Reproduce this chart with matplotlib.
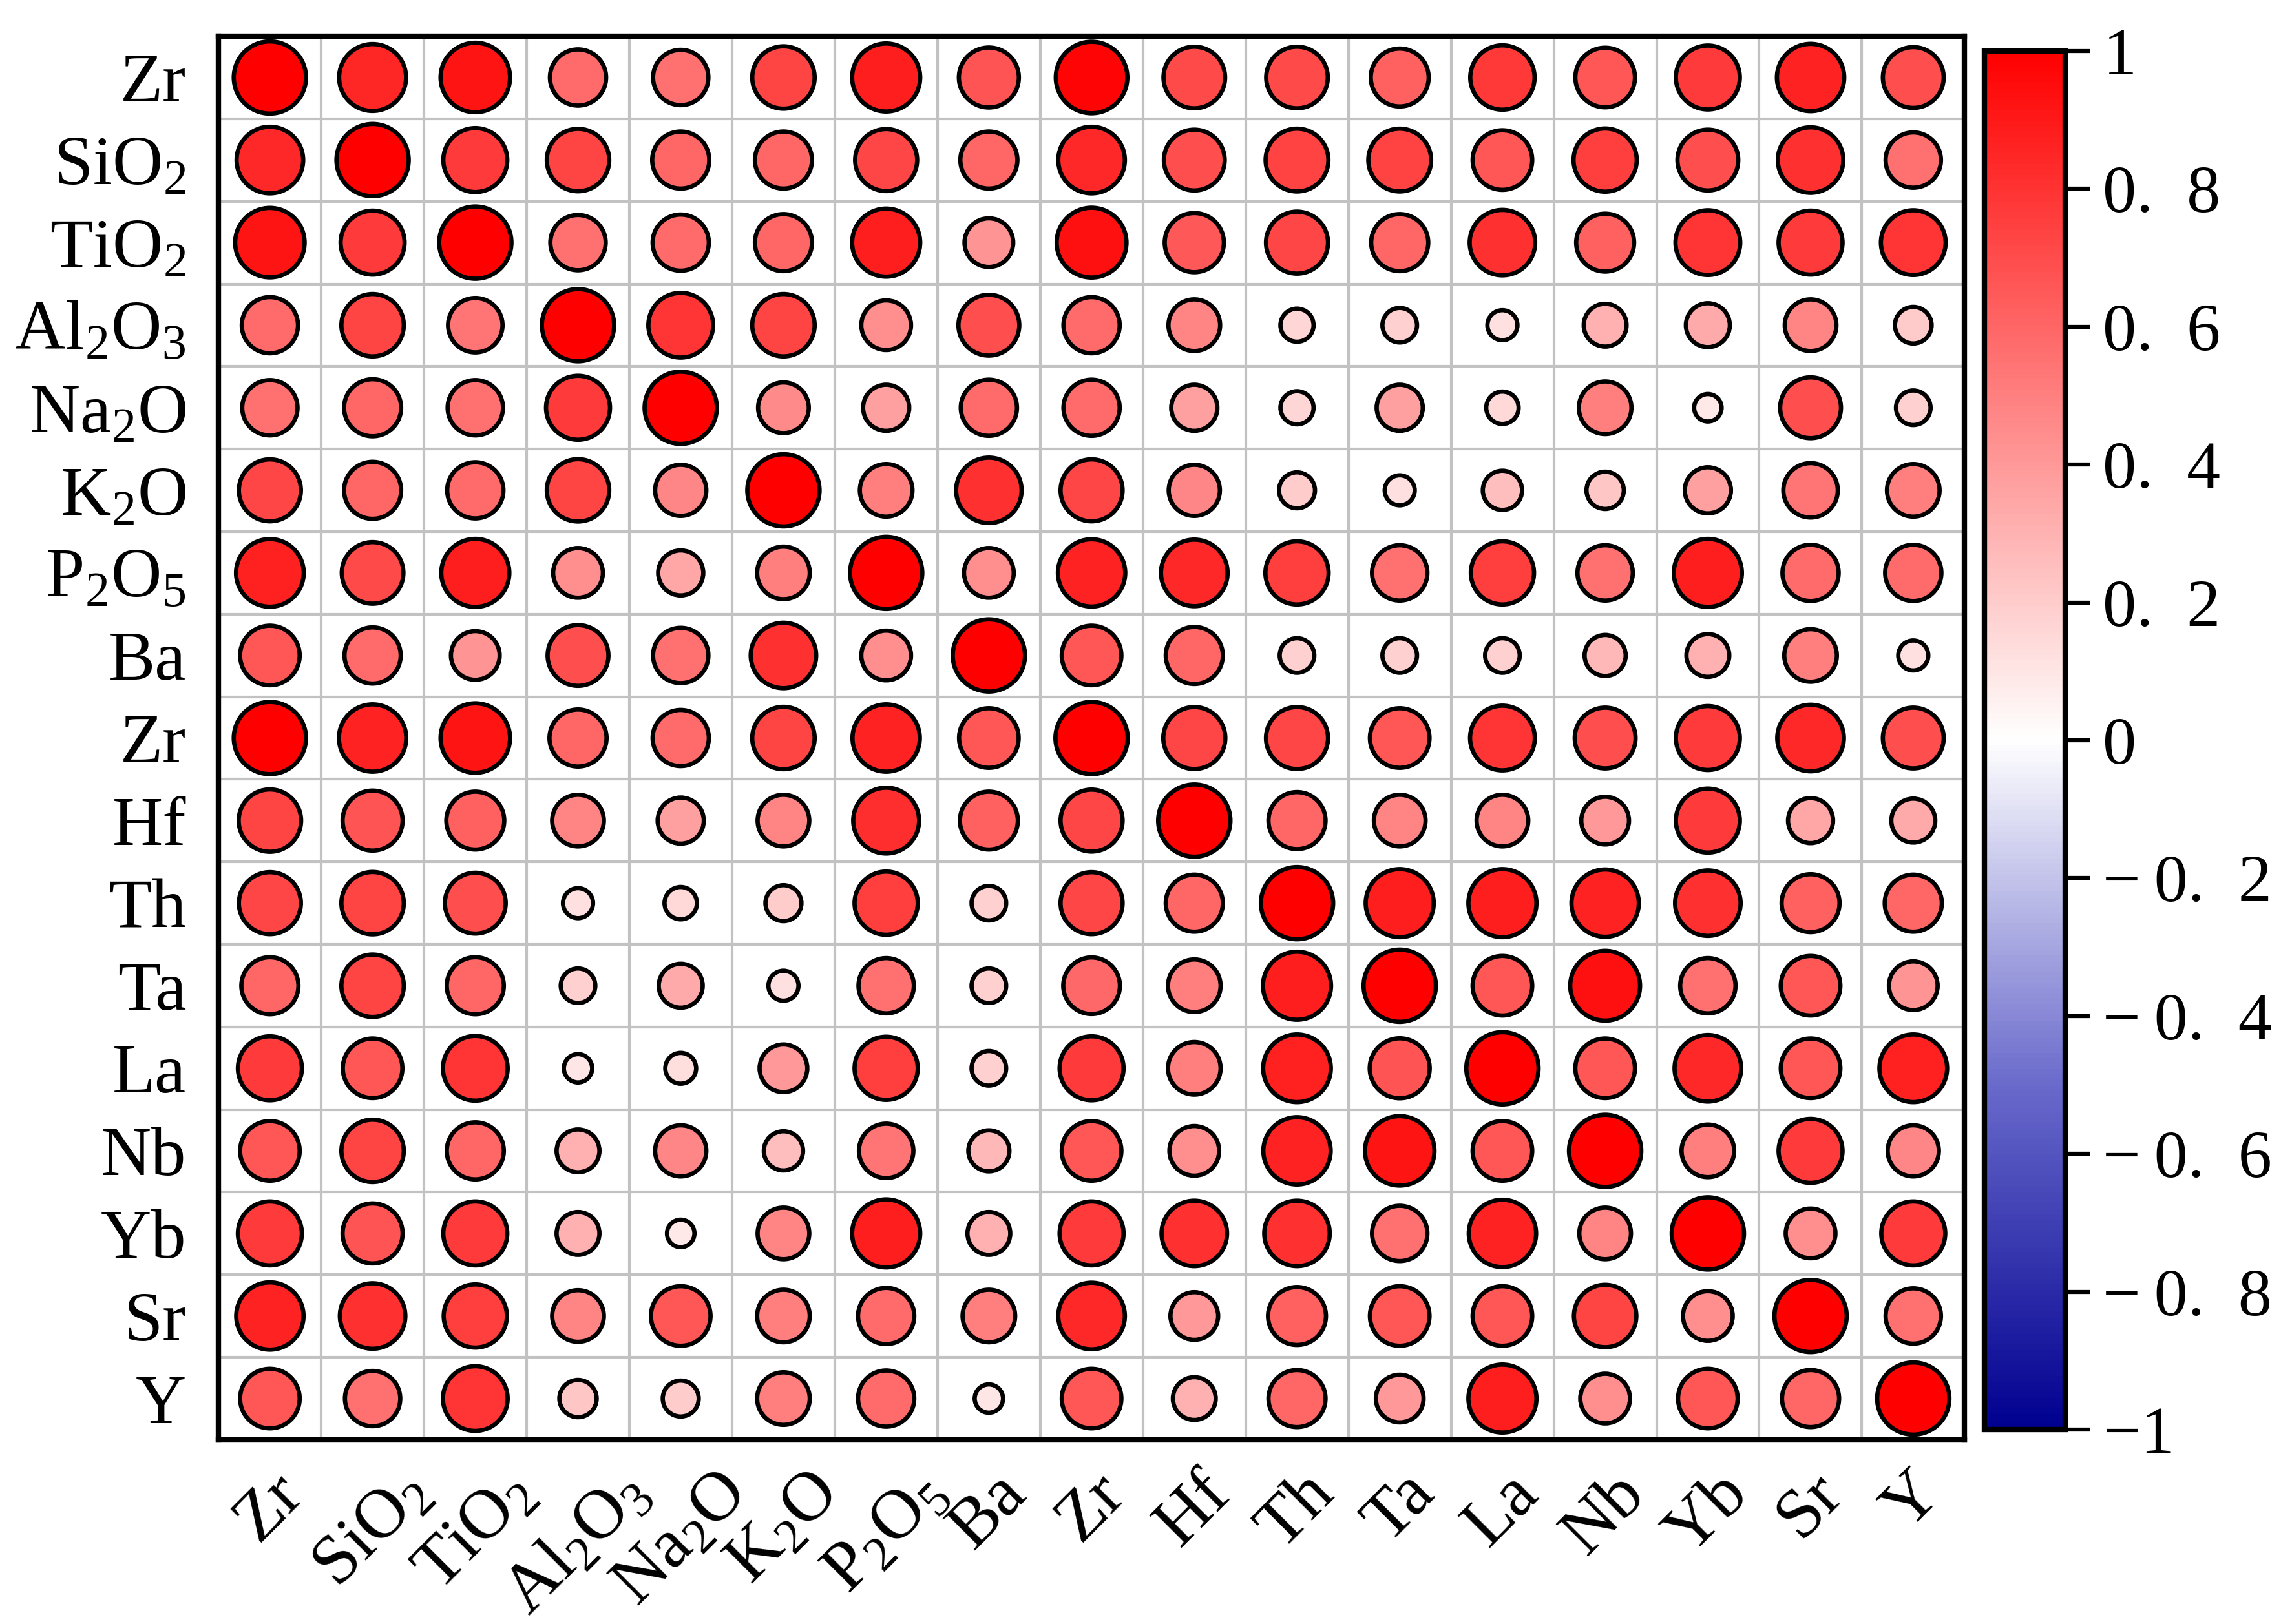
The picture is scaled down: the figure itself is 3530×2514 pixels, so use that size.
import numpy as np
import matplotlib
matplotlib.use('Agg')
import matplotlib.pyplot as plt
from matplotlib.colors import LinearSegmentedColormap

plt.rcParams['font.family'] = ['Liberation Serif', 'DejaVu Serif']
plt.rcParams['mathtext.fontset'] = 'custom'
plt.rcParams['mathtext.rm'] = 'Liberation Serif'
plt.rcParams['mathtext.it'] = 'Liberation Serif:italic'

# variable names (rows top->bottom, columns left->right)
labels = ['Zr', 'SiO$_2$', 'TiO$_2$', 'Al$_2$O$_3$', 'Na$_2$O', 'K$_2$O',
          'P$_2$O$_5$', 'Ba', 'Zr', 'Hf', 'Th', 'Ta', 'La', 'Nb', 'Yb', 'Sr', 'Y']

# correlation coefficients, one list per row
r_Zr1  = [1.00, 0.85, 0.92, 0.58, 0.56, 0.73, 0.88, 0.67, 0.98, 0.71, 0.71, 0.62, 0.78, 0.66, 0.77, 0.86, 0.69]
r_SiO2 = [0.84, 1.00, 0.77, 0.73, 0.60, 0.60, 0.72, 0.60, 0.84, 0.69, 0.74, 0.74, 0.66, 0.75, 0.69, 0.81, 0.56]
r_TiO2 = [0.92, 0.77, 1.00, 0.56, 0.58, 0.60, 0.88, 0.42, 0.93, 0.65, 0.72, 0.60, 0.81, 0.62, 0.79, 0.77, 0.79]
r_Al2O3 = [0.58, 0.73, 0.54, 1.00, 0.79, 0.73, 0.44, 0.69, 0.58, 0.48, 0.16, 0.18, 0.12, 0.31, 0.33, 0.48, 0.21]
r_Na2O = [0.56, 0.60, 0.56, 0.77, 1.00, 0.46, 0.37, 0.58, 0.58, 0.37, 0.16, 0.37, 0.15, 0.50, 0.09, 0.69, 0.18]
r_K2O  = [0.72, 0.60, 0.58, 0.73, 0.47, 1.00, 0.50, 0.81, 0.72, 0.47, 0.20, 0.12, 0.25, 0.22, 0.37, 0.54, 0.50]
r_P2O5 = [0.87, 0.71, 0.88, 0.44, 0.35, 0.50, 1.00, 0.44, 0.86, 0.84, 0.75, 0.56, 0.75, 0.56, 0.88, 0.58, 0.58]
r_Ba   = [0.66, 0.58, 0.42, 0.69, 0.56, 0.81, 0.44, 1.00, 0.66, 0.60, 0.18, 0.18, 0.18, 0.28, 0.31, 0.50, 0.12]
r_Zr2  = [1.00, 0.86, 0.92, 0.60, 0.58, 0.73, 0.86, 0.66, 1.00, 0.72, 0.72, 0.66, 0.79, 0.69, 0.77, 0.84, 0.69]
r_Hf   = [0.73, 0.67, 0.62, 0.48, 0.37, 0.48, 0.82, 0.62, 0.72, 1.00, 0.60, 0.48, 0.48, 0.40, 0.77, 0.35, 0.33]
r_Th   = [0.72, 0.73, 0.69, 0.12, 0.15, 0.20, 0.75, 0.18, 0.72, 0.60, 1.00, 0.88, 0.88, 0.86, 0.81, 0.62, 0.60]
r_Ta   = [0.60, 0.73, 0.60, 0.18, 0.33, 0.12, 0.56, 0.18, 0.59, 0.50, 0.88, 1.00, 0.66, 0.93, 0.56, 0.66, 0.42]
r_La   = [0.77, 0.66, 0.79, 0.10, 0.13, 0.40, 0.75, 0.18, 0.77, 0.50, 0.87, 0.67, 1.00, 0.66, 0.84, 0.66, 0.87]
r_Nb   = [0.66, 0.73, 0.60, 0.31, 0.47, 0.25, 0.54, 0.28, 0.66, 0.44, 0.86, 0.92, 0.66, 1.00, 0.50, 0.77, 0.47]
r_Yb   = [0.77, 0.67, 0.77, 0.31, 0.09, 0.48, 0.88, 0.31, 0.77, 0.81, 0.81, 0.56, 0.86, 0.48, 1.00, 0.44, 0.77]
r_Sr   = [0.86, 0.81, 0.75, 0.48, 0.66, 0.50, 0.58, 0.50, 0.84, 0.40, 0.62, 0.66, 0.66, 0.73, 0.44, 1.00, 0.56]
r_Y    = [0.66, 0.56, 0.79, 0.22, 0.20, 0.50, 0.58, 0.10, 0.66, 0.31, 0.60, 0.40, 0.88, 0.44, 0.66, 0.60, 1.00]

corr = np.array([r_Zr1, r_SiO2, r_TiO2, r_Al2O3, r_Na2O, r_K2O, r_P2O5, r_Ba, r_Zr2,
                 r_Hf, r_Th, r_Ta, r_La, r_Nb, r_Yb, r_Sr, r_Y])

cbar_ticks = [-1, -0.8, -0.6, -0.4, -0.2, 0, 0.2, 0.4, 0.6, 0.8, 1]
cbar_labels = ['\u22121', '\u2212\u20090.  8', '\u2212\u20090.  6', '\u2212\u20090.  4',
               '\u2212\u20090.  2', '0', '0.  2', '0.  4', '0.  6', '0.  8', '1']

cmap = LinearSegmentedColormap.from_list('bwr2', [(0, '#000090'), (0.25, '#6a6acc'),
                                                  (0.5, '#ffffff'), (1, '#ff0000')], N=256)

n = len(labels)
fig = plt.figure(figsize=(11.7667, 8.38), dpi=300)
ax = fig.add_axes([0.0958, 0.1134, 0.7655, 0.8643])

xx, yy = np.meshgrid(np.arange(n), np.arange(n))
smax = 720
sizes = smax * (0.06 + 0.94 * np.abs(corr.ravel()))
sc = ax.scatter(xx.ravel(), yy.ravel(), s=sizes, c=corr.ravel(),
                cmap=cmap, vmin=-1, vmax=1, edgecolors='black', linewidths=1.6,
                zorder=3, clip_on=False)

ax.set_xlim(-0.5, n - 0.5)
ax.set_ylim(n - 0.5, -0.5)
ax.set_xticks(np.arange(n))
ax.set_yticks(np.arange(n))
ax.set_xticklabels(labels, rotation=45, ha='center', fontsize=26)
ax.set_yticklabels(labels, fontsize=26)
ax.set_xticks(np.arange(-0.5, n, 1), minor=True)
ax.set_yticks(np.arange(-0.5, n, 1), minor=True)
ax.grid(which='minor', color='#c2c2c2', linewidth=1.0)
ax.set_axisbelow(True)
ax.tick_params(which='both', length=0)
ax.tick_params(axis='x', pad=8)
ax.tick_params(axis='y', pad=12)
for sp in ax.spines.values():
    sp.set_linewidth(2.0)

cax = fig.add_axes([0.870, 0.1197, 0.0354, 0.8489])
cb = fig.colorbar(sc, cax=cax, ticks=cbar_ticks)
cb.set_ticklabels(cbar_labels)
cb.outline.set_linewidth(2.0)
cax.tick_params(length=9, width=1.5, labelsize=25, pad=5)

fig.savefig('out.png', dpi=300)
